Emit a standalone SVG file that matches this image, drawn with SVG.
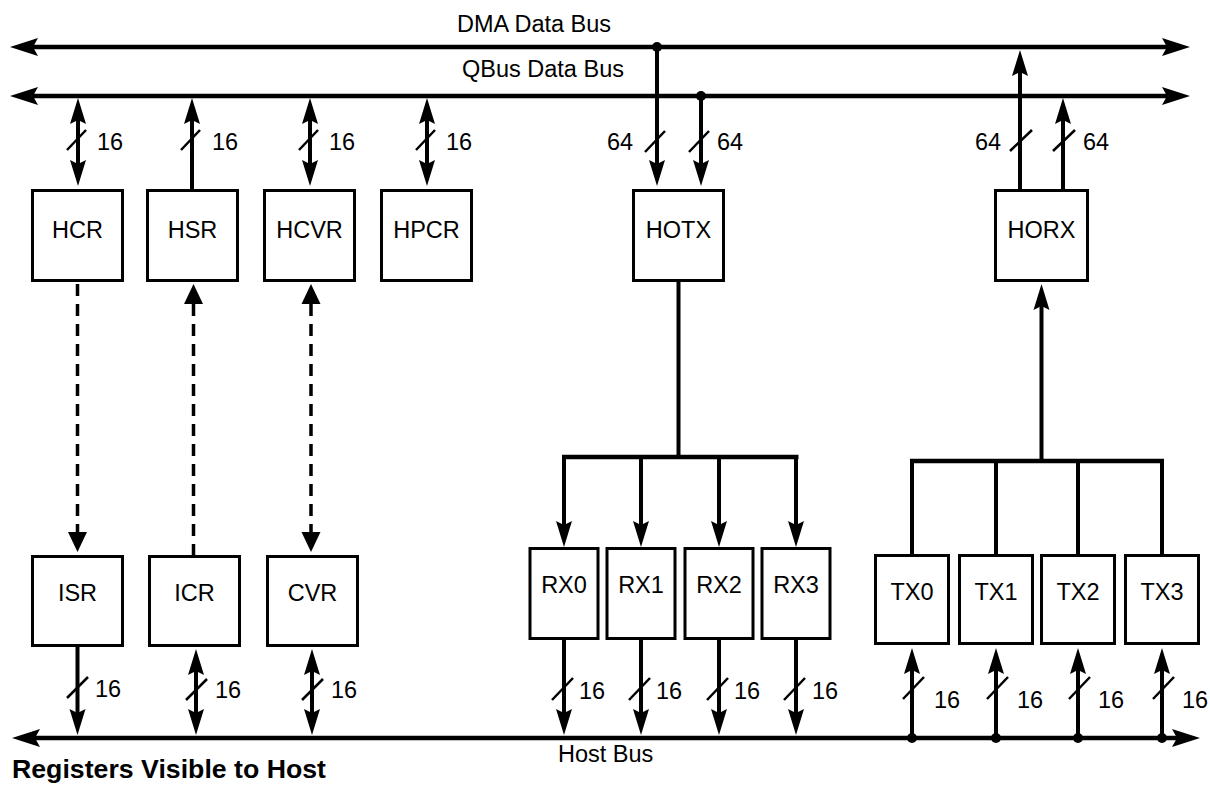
<svg xmlns="http://www.w3.org/2000/svg" xmlns:xlink="http://www.w3.org/1999/xlink" width="1210" height="786" viewBox="0 0 1210 786">
<style>
  .t{font-family:"Liberation Sans",Arial,Helvetica,sans-serif;font-size:23.5px;fill:#000}
  .c{text-anchor:middle}
  .b{font-weight:bold;font-size:26.5px}
  .box{fill:#fff;stroke:#000;stroke-width:3}
  .bus{stroke:#000;stroke-width:4.5;fill:none}
  .w{stroke:#000;stroke-width:4;fill:none}
  .d{stroke:#000;stroke-width:3.5;fill:none;stroke-dasharray:12 8}
  .s{stroke:#000;stroke-width:2.5}
  .ah{fill:#000}
</style>
<defs>
  <path id="aD" class="ah" d="M0,0 L-8,-26 L0,-22 L8,-26 Z"/>
  <path id="aU" class="ah" d="M0,0 L-8,26 L0,22 L8,26 Z"/>
  <path id="dD" class="ah" d="M0,0 L-9.5,-20 L9.5,-20 Z"/>
  <path id="dU" class="ah" d="M0,0 L-9.5,20 L9.5,20 Z"/>
  <path id="aL" class="ah" d="M0,0 L28,-9 L23,0 L28,9 Z"/>
  <path id="aR" class="ah" d="M0,0 L-28,-9 L-23,0 L-28,9 Z"/>
</defs>

<g id="labels">
  <text class="t" x="457" y="32">DMA Data Bus</text>
  <text class="t" x="462" y="77">QBus Data Bus</text>
  <text class="t" x="558" y="762">Host Bus</text>
  <text class="t b" x="12" y="778" textLength="314" lengthAdjust="spacingAndGlyphs">Registers Visible to Host</text>
</g>

<g id="connectors">
  <!-- buses -->
  <line class="bus" x1="30" y1="47" x2="1170" y2="47"/>
  <use xlink:href="#aL" x="10" y="47"/><use xlink:href="#aR" x="1190" y="47"/>
  <line class="bus" x1="30" y1="96" x2="1170" y2="96"/>
  <use xlink:href="#aL" x="10" y="96"/><use xlink:href="#aR" x="1190" y="96"/>
  <line class="bus" x1="32" y1="738" x2="1180" y2="738"/>
  <use xlink:href="#aL" x="12" y="738"/><use xlink:href="#aR" x="1200" y="738"/>

  <!-- QBus to top registers -->
  <line class="w" x1="78" y1="120" x2="78" y2="164"/>
  <use xlink:href="#aU" x="78" y="98"/><use xlink:href="#aD" x="78" y="186"/>
  <line class="s" x1="67" y1="150" x2="86" y2="130"/>
  <text class="t" x="97" y="150">16</text>

  <line class="w" x1="192" y1="120" x2="192" y2="190"/>
  <use xlink:href="#aU" x="192" y="98"/>
  <line class="s" x1="181" y1="150" x2="200" y2="130"/>
  <text class="t" x="212" y="150">16</text>

  <line class="w" x1="310" y1="120" x2="310" y2="164"/>
  <use xlink:href="#aU" x="310" y="98"/><use xlink:href="#aD" x="310" y="186"/>
  <line class="s" x1="299" y1="150" x2="318" y2="130"/>
  <text class="t" x="329" y="150">16</text>

  <line class="w" x1="427" y1="120" x2="427" y2="164"/>
  <use xlink:href="#aU" x="427" y="98"/><use xlink:href="#aD" x="427" y="186"/>
  <line class="s" x1="416" y1="150" x2="435" y2="130"/>
  <text class="t" x="446" y="150">16</text>

  <!-- HOTX inputs -->
  <circle cx="657" cy="47" r="5"/>
  <line class="w" x1="657" y1="47" x2="657" y2="164"/>
  <use xlink:href="#aD" x="657" y="186"/>
  <line class="s" x1="645" y1="152" x2="665" y2="131"/>
  <text class="t" x="607" y="150">64</text>
  <circle cx="701" cy="96" r="5"/>
  <line class="w" x1="701" y1="96" x2="701" y2="164"/>
  <use xlink:href="#aD" x="701" y="186"/>
  <line class="s" x1="689" y1="152" x2="709" y2="131"/>
  <text class="t" x="717" y="150">64</text>

  <!-- HORX outputs -->
  <line class="w" x1="1020" y1="72" x2="1020" y2="190"/>
  <use xlink:href="#aU" x="1020" y="50"/>
  <line class="s" x1="1010" y1="151" x2="1032" y2="130"/>
  <text class="t" x="975" y="150">64</text>
  <line class="w" x1="1063" y1="120" x2="1063" y2="190"/>
  <use xlink:href="#aU" x="1063" y="98"/>
  <line class="s" x1="1053" y1="151" x2="1075" y2="130"/>
  <text class="t" x="1083" y="150">64</text>

  <!-- dashed links -->
  <line class="d" x1="77.5" y1="284" x2="77.5" y2="533"/>
  <use xlink:href="#dD" x="77.5" y="552"/>
  <line class="d" x1="193.5" y1="304" x2="193.5" y2="555"/>
  <use xlink:href="#dU" x="193.5" y="284"/>
  <line class="d" x1="311" y1="304" x2="311" y2="533"/>
  <use xlink:href="#dU" x="311" y="284"/><use xlink:href="#dD" x="311" y="552"/>

  <!-- HOTX to RX -->
  <line class="w" x1="678.5" y1="282" x2="678.5" y2="457"/>
  <line class="bus" x1="562" y1="457" x2="798.5" y2="457"/>
  <line class="w" x1="564" y1="457" x2="564" y2="525"/><use xlink:href="#aD" x="564" y="547"/>
  <line class="w" x1="641" y1="457" x2="641" y2="525"/><use xlink:href="#aD" x="641" y="547"/>
  <line class="w" x1="719" y1="457" x2="719" y2="525"/><use xlink:href="#aD" x="719" y="547"/>
  <line class="w" x1="796" y1="457" x2="796" y2="525"/><use xlink:href="#aD" x="796" y="547"/>

  <!-- TX to HORX -->
  <line class="bus" x1="910" y1="461" x2="1164" y2="461"/>
  <line class="w" x1="912" y1="461" x2="912" y2="555"/>
  <line class="w" x1="996" y1="461" x2="996" y2="555"/>
  <line class="w" x1="1078" y1="461" x2="1078" y2="555"/>
  <line class="w" x1="1162" y1="461" x2="1162" y2="555"/>
  <line class="w" x1="1041.5" y1="461" x2="1041.5" y2="306"/>
  <use xlink:href="#aU" x="1041.5" y="284"/>

  <!-- lower registers to host bus -->
  <line class="w" x1="77.5" y1="646" x2="77.5" y2="713"/>
  <use xlink:href="#aD" x="77.5" y="735"/>
  <line class="s" x1="67" y1="698" x2="88" y2="677"/>
  <text class="t" x="95" y="697">16</text>

  <line class="w" x1="196" y1="670" x2="196" y2="713"/>
  <use xlink:href="#aU" x="196" y="649"/><use xlink:href="#aD" x="196" y="735"/>
  <line class="s" x1="186" y1="700" x2="207" y2="679"/>
  <text class="t" x="215" y="698">16</text>

  <line class="w" x1="312" y1="670" x2="312" y2="713"/>
  <use xlink:href="#aU" x="312" y="649"/><use xlink:href="#aD" x="312" y="735"/>
  <line class="s" x1="302" y1="700" x2="323" y2="679"/>
  <text class="t" x="331" y="698">16</text>

  <!-- RX to host bus -->
  <line class="w" x1="564" y1="640" x2="564" y2="713"/><use xlink:href="#aD" x="564" y="735"/>
  <line class="s" x1="552" y1="700" x2="573" y2="678"/>
  <text class="t" x="579" y="699">16</text>
  <line class="w" x1="641" y1="640" x2="641" y2="713"/><use xlink:href="#aD" x="641" y="735"/>
  <line class="s" x1="629" y1="700" x2="650" y2="678"/>
  <text class="t" x="656" y="699">16</text>
  <line class="w" x1="719" y1="640" x2="719" y2="713"/><use xlink:href="#aD" x="719" y="735"/>
  <line class="s" x1="707" y1="700" x2="728" y2="678"/>
  <text class="t" x="734" y="699">16</text>
  <line class="w" x1="796" y1="640" x2="796" y2="713"/><use xlink:href="#aD" x="796" y="735"/>
  <line class="s" x1="784" y1="700" x2="805" y2="678"/>
  <text class="t" x="812" y="699">16</text>

  <!-- host bus to TX -->
  <line class="w" x1="912" y1="738" x2="912" y2="670"/><use xlink:href="#aU" x="912" y="648"/>
  <circle cx="912" cy="738" r="5"/>
  <line class="s" x1="903" y1="699" x2="924" y2="677"/>
  <text class="t" x="934" y="708">16</text>
  <line class="w" x1="996" y1="738" x2="996" y2="670"/><use xlink:href="#aU" x="996" y="648"/>
  <circle cx="996" cy="738" r="5"/>
  <line class="s" x1="987" y1="699" x2="1008" y2="677"/>
  <text class="t" x="1017" y="708">16</text>
  <line class="w" x1="1078" y1="738" x2="1078" y2="670"/><use xlink:href="#aU" x="1078" y="648"/>
  <circle cx="1078" cy="738" r="5"/>
  <line class="s" x1="1069" y1="699" x2="1090" y2="677"/>
  <text class="t" x="1098" y="708">16</text>
  <line class="w" x1="1162" y1="738" x2="1162" y2="670"/><use xlink:href="#aU" x="1162" y="648"/>
  <circle cx="1162" cy="738" r="5"/>
  <line class="s" x1="1153" y1="699" x2="1174" y2="677"/>
  <text class="t" x="1182" y="708">16</text>
</g>

<g id="HCR"><rect class="box" x="32.5" y="190.5" width="90" height="90"/><text class="t c" x="77.5" y="238">HCR</text></g>
<g id="HSR"><rect class="box" x="147.5" y="190.5" width="90" height="90"/><text class="t c" x="192.5" y="238">HSR</text></g>
<g id="HCVR"><rect class="box" x="264.5" y="190.5" width="90" height="90"/><text class="t c" x="309.5" y="238">HCVR</text></g>
<g id="HPCR"><rect class="box" x="381.5" y="190.5" width="90" height="90"/><text class="t c" x="426.5" y="238">HPCR</text></g>
<g id="HOTX"><rect class="box" x="633.5" y="190.5" width="90" height="90"/><text class="t c" x="678.5" y="238">HOTX</text></g>
<g id="HORX"><rect class="box" x="995.5" y="190.5" width="92" height="90"/><text class="t c" x="1041.5" y="238">HORX</text></g>

<g id="ISR"><rect class="box" x="32.5" y="556.5" width="90" height="89"/><text class="t c" x="77.5" y="601">ISR</text></g>
<g id="ICR"><rect class="box" x="149.5" y="556.5" width="90" height="89"/><text class="t c" x="194.5" y="601">ICR</text></g>
<g id="CVR"><rect class="box" x="267.5" y="556.5" width="90" height="89"/><text class="t c" x="312.5" y="601">CVR</text></g>

<g id="RX0"><rect class="box" x="530" y="548.5" width="68" height="90"/><text class="t c" x="564" y="593">RX0</text></g>
<g id="RX1"><rect class="box" x="607" y="548.5" width="68" height="90"/><text class="t c" x="641" y="593">RX1</text></g>
<g id="RX2"><rect class="box" x="685" y="548.5" width="68" height="90"/><text class="t c" x="719" y="593">RX2</text></g>
<g id="RX3"><rect class="box" x="762" y="548.5" width="68" height="90"/><text class="t c" x="796" y="593">RX3</text></g>

<g id="TX0"><rect class="box" x="875.5" y="555.5" width="73" height="88"/><text class="t c" x="912" y="600">TX0</text></g>
<g id="TX1"><rect class="box" x="959.5" y="555.5" width="73" height="88"/><text class="t c" x="996" y="600">TX1</text></g>
<g id="TX2"><rect class="box" x="1041.5" y="555.5" width="73" height="88"/><text class="t c" x="1078" y="600">TX2</text></g>
<g id="TX3"><rect class="box" x="1125.5" y="555.5" width="73" height="88"/><text class="t c" x="1162" y="600">TX3</text></g>
</svg>
